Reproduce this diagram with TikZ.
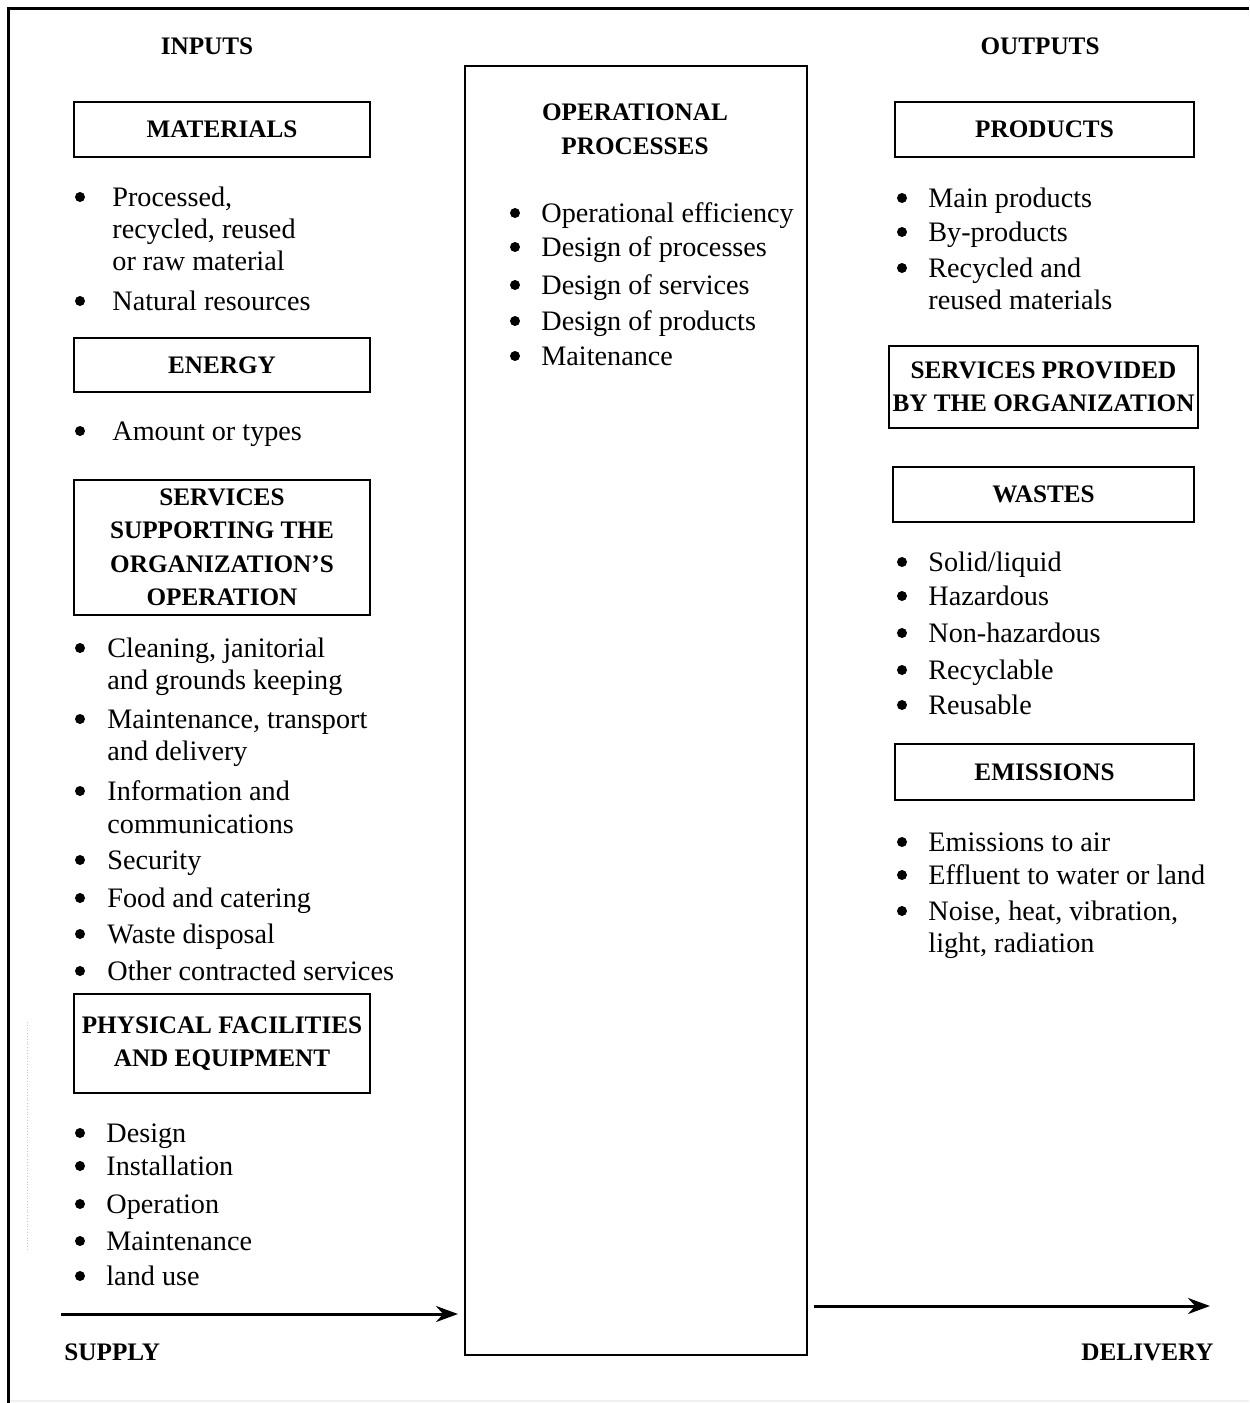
\documentclass[tikz,border=0pt]{standalone}
\usepackage{fontspec}
\setmainfont{Liberation Serif}
\usetikzlibrary{arrows.meta}

\newcommand\bodyfont{\fontsize{14.1}{16}\selectfont}
\newcommand\headfont{\fontsize{12.6}{16.75}\selectfont\bfseries}

\begin{document}
\begin{tikzpicture}[
  x=0.5pt, y=-0.5pt,
  frame/.style={line width=1.5pt},
  headbox/.style={draw,line width=1pt,inner sep=0pt,align=center,font=\headfont},
  heading/.style={inner sep=0pt,align=center,font=\headfont},
  dot/.style={circle,fill,inner sep=0pt,minimum size=5pt},
  entry/.style={anchor=mid west,inner sep=0pt,yshift=-2.5pt,font=\bodyfont},
  flow/.style={line width=1.5pt,-{Stealth[length=11pt,width=8pt]}}]

  \useasboundingbox (0,0) rectangle (1249,1403);

  % frame of the page
  \draw[frame] (8,1403) -- (8,8) -- (1249,8);
  \draw[gray!12,line width=1pt] (10,1401) -- (1249,1401);
  \draw[gray!45,densely dotted,line width=0.4pt] (27,1022) -- (27,1250);

  % inputs
  \node(inputs)[heading] at (207,46) {INPUTS};

  \node(materials)[headbox,minimum width=148pt,minimum height=27.5pt] at (222,129.5) {MATERIALS};
  \foreach \y/\txt [count=\i] in {{197/Processed,}, 301/Natural resources} {
    \node(mat\i-dot)[dot] at (80,\y) {};
    \node(mat\i)[entry] at (112,\y) {\txt};
  }
  \node(mat1-b)[entry] at (112,229) {recycled, reused};
  \node(mat1-c)[entry] at (112,261) {or raw material};

  \node(energy)[headbox,minimum width=148pt,minimum height=27pt] at (222,365) {ENERGY};
  \node(en1-dot)[dot] at (80,431) {};
  \node(en1)[entry] at (112,431) {Amount or types};

  \node(support)[headbox,minimum width=148pt,minimum height=67.5pt] at (222,547.5)
    {SERVICES\\SUPPORTING THE\\ORGANIZATION’S\\OPERATION};
  \foreach \y/\txt [count=\i] in {{648/Cleaning, janitorial}, {719/Maintenance, transport},
      791/Information and, 860/Security, 898/Food and catering, 934/Waste disposal,
      971/Other contracted services} {
    \node(sup\i-dot)[dot] at (80,\y) {};
    \node(sup\i)[entry] at (107,\y) {\txt};
  }
  \node(sup1-b)[entry] at (107,680) {and grounds keeping};
  \node(sup2-b)[entry] at (107,751) {and delivery};
  \node(sup3-b)[entry] at (107,824) {communications};

  \node(facilities)[headbox,minimum width=148pt,minimum height=49.5pt] at (222,1043.5)
    {PHYSICAL FACILITIES\\AND EQUIPMENT};
  \foreach \y/\txt [count=\i] in {1133/Design, 1166/Installation, 1204/Operation,
      1241/Maintenance, 1276/land use} {
    \node(fac\i-dot)[dot] at (80,\y) {};
    \node(fac\i)[entry] at (106,\y) {\txt};
  }

  % operational processes
  \node(opbox)[draw,line width=1pt,minimum width=171pt,minimum height=644.5pt] at (636,710.5) {};
  \node(optitle)[heading] at (635,129.5) {OPERATIONAL\\PROCESSES};
  \foreach \y/\txt [count=\i] in {213/Operational efficiency, 247/Design of processes,
      285/Design of services, 321/Design of products, 356/Maitenance} {
    \node(op\i-dot)[dot] at (515,\y) {};
    \node(op\i)[entry] at (541,\y) {\txt};
  }

  % outputs
  \node(outputs)[heading] at (1040,46) {OUTPUTS};

  \node(products)[headbox,minimum width=149.5pt,minimum height=27.5pt] at (1044.5,129.5) {PRODUCTS};
  \foreach \y/\txt [count=\i] in {198/Main products, 232/By-products, 268/Recycled and} {
    \node(prod\i-dot)[dot] at (902,\y) {};
    \node(prod\i)[entry] at (928,\y) {\txt};
  }
  \node(prod3-b)[entry] at (928,300) {reused materials};

  \node(provided)[headbox,minimum width=154.5pt,minimum height=41pt] at (1043.5,387)
    {SERVICES PROVIDED\\BY THE ORGANIZATION};

  \node(wastes)[headbox,minimum width=150.5pt,minimum height=27.5pt] at (1043.5,494.5) {WASTES};
  \foreach \y/\txt [count=\i] in {562/{Solid/liquid}, 596/Hazardous, 633/Non-hazardous,
      670/Recyclable, 705/Reusable} {
    \node(was\i-dot)[dot] at (902,\y) {};
    \node(was\i)[entry] at (928,\y) {\txt};
  }

  \node(emissions)[headbox,minimum width=149.5pt,minimum height=28pt] at (1044.5,772) {EMISSIONS};
  \foreach \y/\txt [count=\i] in {842/Emissions to air, 875/Effluent to water or land,
      {911/Noise, heat, vibration,}} {
    \node(emi\i-dot)[dot] at (902,\y) {};
    \node(emi\i)[entry] at (928,\y) {\txt};
  }
  \node(emi3-b)[entry] at (928,943) {light, radiation};

  % supply and delivery
  \coordinate(supply-start) at (61,1314);
  \coordinate(supply-end) at (458,1314);
  \draw[flow] (supply-start) -- (supply-end);
  \node(supply)[heading,anchor=west] at (64,1352) {SUPPLY};

  \coordinate(delivery-start) at (814,1306);
  \coordinate(delivery-end) at (1210,1306);
  \draw[flow] (delivery-start) -- (delivery-end);
  \node(delivery)[heading,anchor=east] at (1214,1352) {DELIVERY};

\end{tikzpicture}
\end{document}
